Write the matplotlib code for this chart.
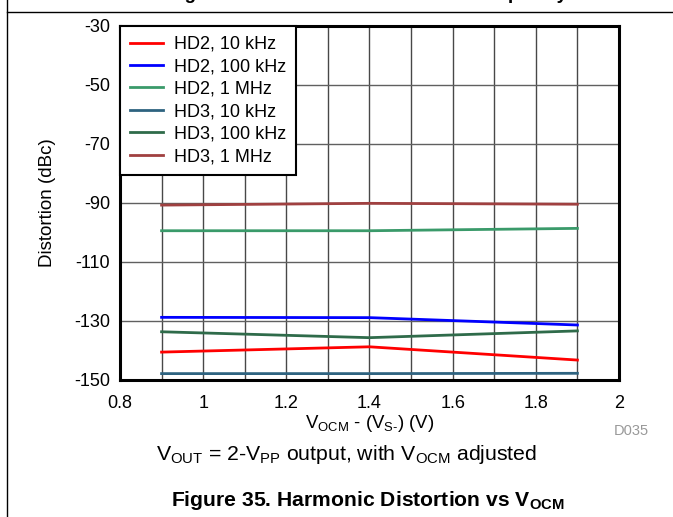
import matplotlib
matplotlib.use("Agg")
from matplotlib import pyplot as plt
from matplotlib.ticker import MultipleLocator

plt.rcParams["font.family"] = ["Liberation Sans", "DejaVu Sans"]
plt.rcParams["mathtext.fontset"] = "custom"
plt.rcParams["mathtext.rm"] = "Liberation Sans"
plt.rcParams["mathtext.it"] = "Liberation Sans:italic"
plt.rcParams["mathtext.bf"] = "Liberation Sans:bold"
plt.rcParams["axes.unicode_minus"] = False

# V_OCM - (V_S-) in volts
vocm = [0.9, 1.4, 1.9]

hd2_10k = [-140.7, -138.9, -143.4]
hd2_100k = [-128.9, -129.0, -131.5]
hd2_1m = [-99.5, -99.5, -98.7]
hd3_10k = [-148.0, -148.0, -147.9]
hd3_100k = [-133.8, -135.8, -133.5]
hd3_1m = [-90.8, -90.2, -90.5]

labels = ["HD2, 10 kHz", "HD2, 100 kHz", "HD2, 1 MHz",
          "HD3, 10 kHz", "HD3, 100 kHz", "HD3, 1 MHz"]
colors = ["#ff0000", "#0000ff", "#3a9a6a", "#2e6380", "#2f6b4a", "#a04040"]

xticks = [0.8, 1.0, 1.2, 1.4, 1.6, 1.8, 2.0]
xticklabels = ["0.8", "1", "1.2", "1.4", "1.6", "1.8", "2"]
yticks = [-150, -130, -110, -90, -70, -50, -30]

fig = plt.figure(figsize=(6.73, 5.17), dpi=100)
W, H = 673, 517
ax = fig.add_axes([120 / W, 1 - 379.5 / H, 499 / W, 353.5 / H])

series = [hd2_10k, hd2_100k, hd2_1m, hd3_10k, hd3_100k, hd3_1m]
for ys, lab, c in zip(series, labels, colors):
    ax.plot(vocm, ys, color=c, lw=2, label=lab, zorder=3)

ax.set_xlim(0.8, 2.0)
ax.set_ylim(-150, -30)
ax.set_xticks(xticks)
ax.set_xticklabels(xticklabels)
ax.xaxis.set_minor_locator(MultipleLocator(0.1))
ax.set_yticks(yticks)
ax.grid(True, which="both", axis="x", color="#484848", lw=1)
ax.grid(True, which="major", axis="y", color="#606060", lw=1)
ax.tick_params(axis="both", which="both", length=0, labelsize=13)
ax.tick_params(axis="x", pad=11)
ax.tick_params(axis="y", pad=7)
for s in ax.spines.values():
    s.set_linewidth(2.2)
    s.set_zorder(4)

ax.set_xlabel(r"$\mathregular{V_{OCM}}$ - ($\mathregular{V_{S\text{-}}}$) (V)", fontsize=13.4)
ax.xaxis.set_label_coords(0.5, -0.095)
ax.xaxis.label.set_va("top")
fig.text(48 / W, 1 - 203 / H, "Distortion (dBc)", rotation=90,
         ha="center", va="center", fontsize=13.5)

leg = ax.legend(loc="upper left", borderaxespad=0, fancybox=False,
                framealpha=1, edgecolor="black", fontsize=13.0,
                handlelength=1.85, handletextpad=0.6,
                labelspacing=0.3, borderpad=0.55)
leg.get_frame().set_linewidth(1.5)
leg.set_zorder(5)

fig.text(631 / W, 1 - 431 / H, "D035", color="#999999", fontsize=10.5,
         ha="center", va="center")
fig.text(347 / W, 1 - 455 / H,
         r"$\mathregular{V_{OUT}}$ = 2-$\mathregular{V_{PP}}$ output, with $\mathregular{V_{OCM}}$ adjusted",
         fontsize=15.3, ha="center", va="center")
fig.text(368 / W, 1 - 500 / H,
         r"Figure 35. Harmonic Distortion vs $\mathbf{V_{OCM}}$",
         fontsize=15.2, fontweight="bold", ha="center", va="center")
# title of the figure above, cut off at the top edge
fig.text(368 / W, 1 + 1.0 / H,
         "Figure 34. Harmonic Distortion vs Frequency",
         fontsize=13.5, fontweight="bold", ha="center", va="baseline")

# page frame lines
fig.add_artist(plt.Line2D([7 / W, 1], [1 - 12 / H, 1 - 12 / H],
                          transform=fig.transFigure, color="black", lw=1))
fig.add_artist(plt.Line2D([7 / W, 7 / W], [0, 1],
                          transform=fig.transFigure, color="black", lw=1))

fig.savefig("out.png", dpi=100)
